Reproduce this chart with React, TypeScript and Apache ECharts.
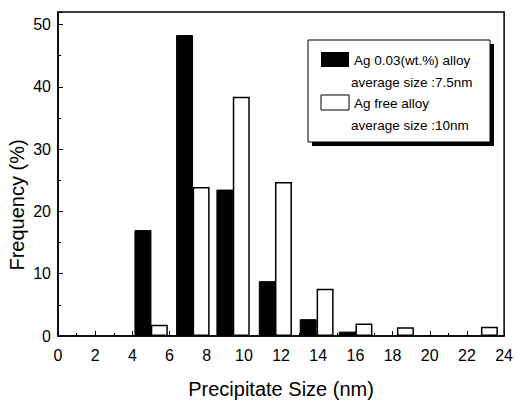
import React, { useEffect, useRef } from "react";
import * as echarts from "echarts";

// Precipitate size bin centres (nm) and frequencies (%)
const agAlloySizes = [4.57, 6.81, 8.98, 11.26, 13.46, 15.56];
const agAlloyFreq = [17.0, 48.3, 23.5, 8.8, 2.7, 0.7];
const agFreeSizes = [5.45, 7.7, 9.86, 12.13, 14.37, 16.46, 18.69, 23.21];
const agFreeFreq = [1.8, 23.9, 38.4, 24.7, 7.6, 2.0, 1.4, 1.5];

const legendLabels = ["Ag 0.03(wt.%) alloy", "average size :7.5nm", "Ag free alloy", "average size :10nm"];
const xTitle = "Precipitate Size (nm)";
const yTitle = "Frequency (%)";

const FONT = "Liberation Sans, Arial, Helvetica, sans-serif";

export default function App() {
  const ref = useRef<HTMLDivElement>(null);
  useEffect(() => {
    if (!ref.current) return;
    const chart = echarts.init(ref.current, null, { renderer: "svg" });
    const pair = (xs: number[], ys: number[]) => xs.map((x, i) => [x, ys[i]]);
    const legendFont = { fontFamily: FONT, fontSize: 13.5, fill: "#000" };
    chart.setOption({
      animation: false,
      backgroundColor: "#fff",
      grid: { left: 58, right: 9, top: 12, bottom: 66, show: true, borderColor: "#000", borderWidth: 1.5 },
      xAxis: {
        type: "value",
        min: 0,
        max: 24,
        interval: 2,
        name: xTitle,
        nameLocation: "middle",
        nameGap: 43,
        nameTextStyle: { fontFamily: FONT, fontSize: 20, color: "#000" },
        axisLine: { show: true, onZero: false, lineStyle: { color: "#000", width: 1.5 } },
        axisTick: { show: true, inside: true, length: 5, lineStyle: { color: "#000", width: 1 } },
        minorTick: { show: true, splitNumber: 2, length: 3, lineStyle: { color: "#000", width: 1 } },
        splitLine: { show: false },
        axisLabel: { fontFamily: FONT, fontSize: 16, color: "#000", margin: 11 },
      },
      yAxis: {
        type: "value",
        min: 0,
        max: 52,
        interval: 10,
        axisLine: { show: true, lineStyle: { color: "#000", width: 1.5 } },
        axisTick: { show: true, inside: true, length: 5, lineStyle: { color: "#000", width: 1 } },
        minorTick: { show: true, splitNumber: 2, length: 3, lineStyle: { color: "#000", width: 1 } },
        splitLine: { show: false },
        axisLabel: { fontFamily: FONT, fontSize: 16, color: "#000", margin: 7, showMaxLabel: false },
      },
      series: [
        {
          name: legendLabels[0],
          type: "bar",
          data: pair(agAlloySizes, agAlloyFreq),
          barWidth: 17,
          barGap: "-100%",
          itemStyle: { color: "#000", borderColor: "#000", borderWidth: 1 },
        },
        {
          name: legendLabels[2],
          type: "bar",
          data: pair(agFreeSizes, agFreeFreq),
          barWidth: 17,
          barGap: "-100%",
          itemStyle: { color: "#fff", borderColor: "#000", borderWidth: 1.5 },
        },
      ],
      graphic: [
        {
          type: "text",
          x: 17,
          y: 205,
          rotation: Math.PI / 2,
          style: { text: yTitle, fontFamily: FONT, fontSize: 20, fill: "#000", align: "center", verticalAlign: "middle" },
        },
        { type: "rect", shape: { x: 312, y: 44, width: 182, height: 102 }, style: { fill: "#000" } },
        { type: "rect", shape: { x: 308, y: 40, width: 182, height: 102 }, style: { fill: "#fff", stroke: "#000", lineWidth: 1 } },
        { type: "rect", shape: { x: 321, y: 52, width: 28, height: 15 }, style: { fill: "#000" } },
        { type: "text", x: 354, y: 60, style: { ...legendFont, text: legendLabels[0], verticalAlign: "middle" } },
        { type: "text", x: 351, y: 82, style: { ...legendFont, text: legendLabels[1], verticalAlign: "middle" } },
        { type: "rect", shape: { x: 321, y: 95, width: 28, height: 15 }, style: { fill: "#fff", stroke: "#000", lineWidth: 1 } },
        { type: "text", x: 354, y: 103, style: { ...legendFont, text: legendLabels[2], verticalAlign: "middle" } },
        { type: "text", x: 351, y: 125, style: { ...legendFont, text: legendLabels[3], verticalAlign: "middle" } },
      ],
    });
    return () => chart.dispose();
  }, []);
  return <div ref={ref} style={{ width: 516, height: 404, position: "absolute", left: 0, top: 0 }} />;
}
